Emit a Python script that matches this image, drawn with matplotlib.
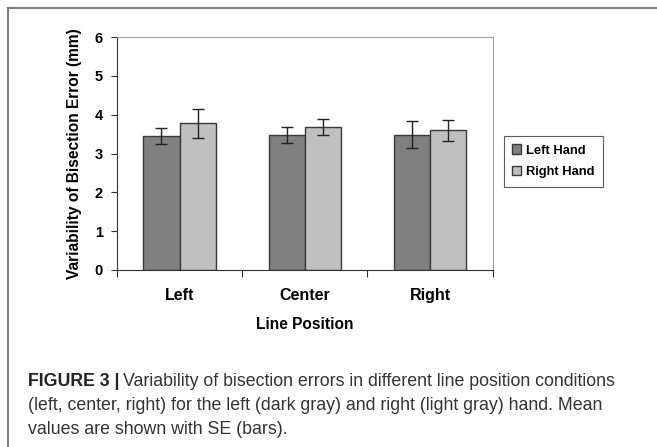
import numpy as np
import matplotlib.pyplot as plt
from matplotlib.lines import Line2D

positions = ['Left', 'Center', 'Right']
left_hand = [3.45, 3.48, 3.48]
left_hand_se = [0.21, 0.21, 0.35]
right_hand = [3.78, 3.68, 3.60]
right_hand_se = [0.38, 0.20, 0.27]

plt.rcParams['font.family'] = ['Liberation Sans', 'DejaVu Sans']

fig = plt.figure(figsize=(6.57, 4.47), dpi=100)
ax = fig.add_axes([0.178, 0.396, 0.572, 0.521])

x = np.arange(len(positions))
w = 0.29
ax.bar(x - w / 2, left_hand, w, color='#808080', edgecolor='#3a3a3a',
       linewidth=1.0, label='Left Hand')
ax.bar(x + w / 2, right_hand, w, color='#c0c0c0', edgecolor='#3a3a3a',
       linewidth=1.0, label='Right Hand')
ax.errorbar(x - w / 2, left_hand, yerr=left_hand_se, fmt='none',
            ecolor='#222222', elinewidth=1, capsize=4, capthick=1)
ax.errorbar(x + w / 2, right_hand, yerr=right_hand_se, fmt='none',
            ecolor='#222222', elinewidth=1, capsize=4, capthick=1)

ax.set_xlim(-0.5, len(positions) - 0.5)
ax.set_ylim(0, 6)
ax.set_yticks(range(7))
ax.set_yticklabels([str(i) for i in range(7)], fontsize=10.5, fontweight='bold')
ax.set_xticks(np.arange(len(positions) + 1) - 0.5)
ax.set_xticklabels([])
ax.set_xticks(x, minor=True)
ax.set_xticklabels(positions, minor=True, fontsize=11.5, fontweight='bold')
ax.tick_params(axis='x', which='major', length=5, direction='out', color='#333333')
ax.tick_params(axis='x', which='minor', length=0, pad=13)
ax.tick_params(axis='y', length=4, direction='out', color='#333333', pad=6)

for s in ['top', 'right']:
    ax.spines[s].set_color('#a0a0a0')
for s in ['left', 'bottom']:
    ax.spines[s].set_color('#333333')

ax.set_ylabel('Variability of Bisection Error (mm)', fontsize=11.2,
              fontweight='bold', labelpad=9)
ax.set_xlabel('Line Position', fontsize=11.2, fontweight='bold', labelpad=10)

leg = ax.legend(loc='upper left', bbox_to_anchor=(1.03, 0.575), frameon=True,
                fancybox=False, edgecolor='#333333',
                handlelength=0.7, handleheight=0.7, handletextpad=0.35,
                borderpad=0.65, labelspacing=0.75, borderaxespad=0,
                prop={'weight': 'bold', 'size': 9.3})
leg.get_frame().set_linewidth(0.8)

# outer frame (top and left edges)
fig.add_artist(Line2D([8 / 657, 1.0], [1 - 8 / 447, 1 - 8 / 447],
                      color='#808080', lw=1.5, transform=fig.transFigure))
fig.add_artist(Line2D([8 / 657, 8 / 657], [1 - 8 / 447, 0],
                      color='#808080', lw=1.5, transform=fig.transFigure))

# caption
cap_x = 28 / 657
bold = fig.text(cap_x, 1 - 381 / 447, 'FIGURE 3 |', fontsize=12.8,
                fontweight='bold', color='#222222', va='center')
fig.canvas.draw()
bb = bold.get_window_extent()
fig.text(bb.x1 / fig.bbox.width + 0.005, 1 - 381 / 447,
         'Variability of bisection errors in different line position conditions',
         fontsize=12.8, color='#333333', va='center')
fig.text(cap_x, 1 - 406 / 447,
         '(left, center, right) for the left (dark gray) and right (light gray) hand. Mean',
         fontsize=12.8, color='#333333', va='center')
fig.text(cap_x, 1 - 430 / 447, 'values are shown with SE (bars).',
         fontsize=12.8, color='#333333', va='center')

fig.savefig('out.png', dpi=100)
